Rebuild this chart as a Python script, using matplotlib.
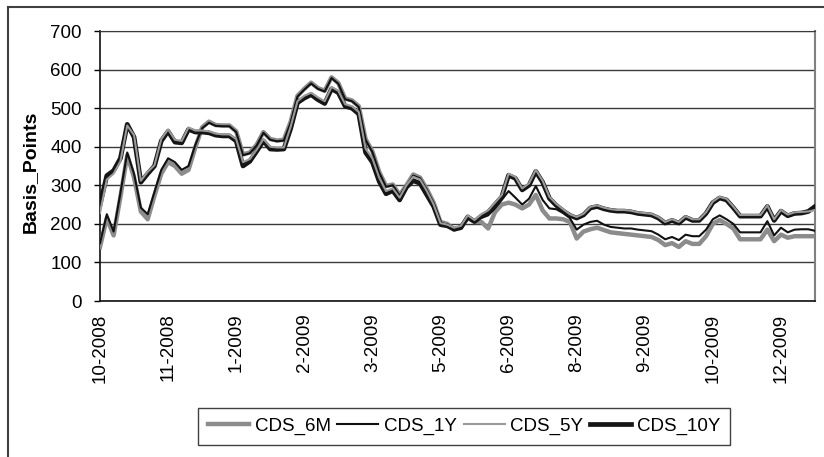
import numpy as np
import matplotlib
matplotlib.use("Agg")
import matplotlib.pyplot as plt
from matplotlib.lines import Line2D

plt.rcParams['font.family'] = ['Liberation Sans', 'DejaVu Sans']

# ---- data (values in basis points, one sample every 3 trading days) ----
tick_labels = ["10-2008", "11-2008", "1-2009", "2-2009", "3-2009", "5-2009",
               "6-2009", "8-2009", "9-2009", "10-2009", "12-2009"]

cds_6m = [140, 215, 170, 270, 378, 320, 232, 212, 273, 330, 360, 350, 330, 340, 398,
          450, 465, 456, 455, 455, 440, 380, 385, 405, 438, 420, 416, 418, 465, 532,
          550, 566, 552, 545, 580, 565, 525, 520, 505, 420, 388, 335, 298, 302, 275,
          300, 328, 320, 290, 255, 205, 200, 185, 192, 215, 205, 205, 188, 230, 250,
          255, 250, 240, 250, 275, 235, 214, 214, 212, 205, 162, 180, 186, 190, 184,
          178, 176, 174, 172, 170, 168, 166, 158, 145, 150, 140, 155, 148, 148, 168,
          200, 210, 200, 188, 160, 160, 160, 160, 185, 155, 172, 164, 168, 168, 168,
          168]
cds_1y = [150, 225, 180, 280, 385, 330, 242, 225, 283, 340, 370, 360, 340, 350, 405,
          448, 462, 454, 453, 453, 438, 378, 383, 403, 436, 418, 414, 416, 462, 530,
          548, 564, 550, 543, 578, 563, 523, 518, 503, 418, 386, 333, 296, 300, 273,
          298, 325, 318, 288, 253, 203, 198, 187, 193, 218, 208, 215, 222, 240, 262,
          285, 268, 250, 265, 298, 262, 240, 238, 228, 215, 185, 198, 205, 208, 198,
          192, 190, 188, 188, 185, 183, 181, 172, 160, 166, 158, 172, 168, 168, 185,
          212, 222, 212, 200, 178, 178, 178, 178, 207, 170, 190, 178, 185, 186, 186,
          182]
cds_5y = [228, 315, 330, 362, 455, 430, 312, 335, 352, 420, 445, 418, 415, 450, 442,
          442, 440, 434, 432, 432, 420, 360, 368, 392, 420, 400, 398, 398, 452, 518,
          532, 540, 528, 518, 555, 545, 510, 505, 490, 395, 370, 320, 285, 292, 268,
          300, 322, 315, 285, 250, 202, 198, 190, 195, 222, 210, 225, 235, 255, 275,
          330, 322, 292, 305, 340, 312, 270, 252, 238, 225, 218, 226, 244, 248, 242,
          238, 236, 236, 234, 230, 228, 226, 218, 205, 212, 205, 220, 212, 212, 230,
          258, 270, 265, 245, 223, 223, 223, 223, 248, 212, 236, 224, 230, 231, 232,
          236]
cds_10y = [250, 325, 338, 370, 458, 425, 308, 330, 350, 415, 440, 412, 410, 445, 438,
           438, 436, 430, 428, 428, 415, 350, 362, 388, 415, 394, 393, 394, 447, 514,
           526, 535, 522, 512, 550, 540, 505, 500, 485, 385, 360, 310, 278, 286, 262,
           295, 312, 305, 275, 245, 198, 195, 186, 190, 218, 206, 220, 230, 250, 270,
           326, 318, 288, 300, 336, 308, 266, 248, 234, 222, 215, 223, 241, 245, 239,
           235, 233, 233, 231, 227, 225, 223, 215, 202, 209, 202, 217, 209, 209, 227,
           255, 267, 262, 242, 220, 220, 220, 220, 245, 209, 233, 221, 227, 228, 232,
           245]

step = 3          # trading days between samples
label_every = 30  # trading days between axis labels
days = np.arange(len(cds_6m)) * step

# ---- figure ----
W, H = 824, 457
fig = plt.figure(figsize=(W / 100, H / 100), dpi=100)
ax = fig.add_axes([100 / W, 1 - 301 / H, 715 / W, 270 / H])

ax.plot(days, cds_6m, color='#8c8c8c', lw=3.2, zorder=3)
ax.plot(days, cds_1y, color='#111111', lw=1.5, zorder=4)
ax.plot(days, cds_10y, color='#151515', lw=3.4, zorder=5)
ax.plot(days, cds_5y, color='#9a9a9a', lw=1.5, zorder=6)

ax.set_xlim(days[0], days[-1])
ax.set_ylim(0, 700)
ax.set_yticks(np.arange(0, 701, 100))
ax.set_xticks(np.arange(len(tick_labels)) * label_every)
ax.set_xticklabels(tick_labels, rotation=90, va='top', ha='center')
ax.tick_params(axis='x', length=0, pad=9, labelsize=13.5)
ax.tick_params(axis='y', length=4, width=1, pad=9, labelsize=13.5, direction='out')
ax.grid(axis='y', color='#3a3a3a', lw=1)
ax.set_axisbelow(True)
for s in ['left', 'bottom']:
    ax.spines[s].set_color('#111111')
    ax.spines[s].set_linewidth(1.2)
ax.spines['top'].set_color('#3a3a3a')
ax.spines['right'].set_color('#808080')
ax.spines['right'].set_linewidth(1.5)

fig.text(30 / W, 1 - 172 / H, 'Basis_Points', rotation=90, fontsize=14,
         fontweight='bold', ha='center', va='center')

handles = [Line2D([], [], color='#8c8c8c', lw=3.2),
           Line2D([], [], color='#111111', lw=1.5),
           Line2D([], [], color='#9a9a9a', lw=1.5),
           Line2D([], [], color='#151515', lw=3.4)]
leg = fig.legend(handles, ['CDS_6M', 'CDS_1Y', 'CDS_5Y', 'CDS_10Y'],
                 loc='center', bbox_to_anchor=(464 / W, 1 - 426.5 / H),
                 ncol=4, frameon=True, fancybox=False, fontsize=13.5,
                 handlelength=2.2, handletextpad=0.3, columnspacing=0.35,
                 borderpad=0.5)
leg.get_frame().set_edgecolor('#111111')
leg.get_frame().set_linewidth(1)

# chart area border (left and top visible)
fig.add_artist(Line2D([8 / W, 8 / W], [0, 1 - 7 / H], color='#404040', lw=1.5,
                      transform=fig.transFigure))
fig.add_artist(Line2D([8 / W, 1], [1 - 7 / H, 1 - 7 / H], color='#404040', lw=1.5,
                      transform=fig.transFigure))

fig.savefig('out.png', dpi=100)
